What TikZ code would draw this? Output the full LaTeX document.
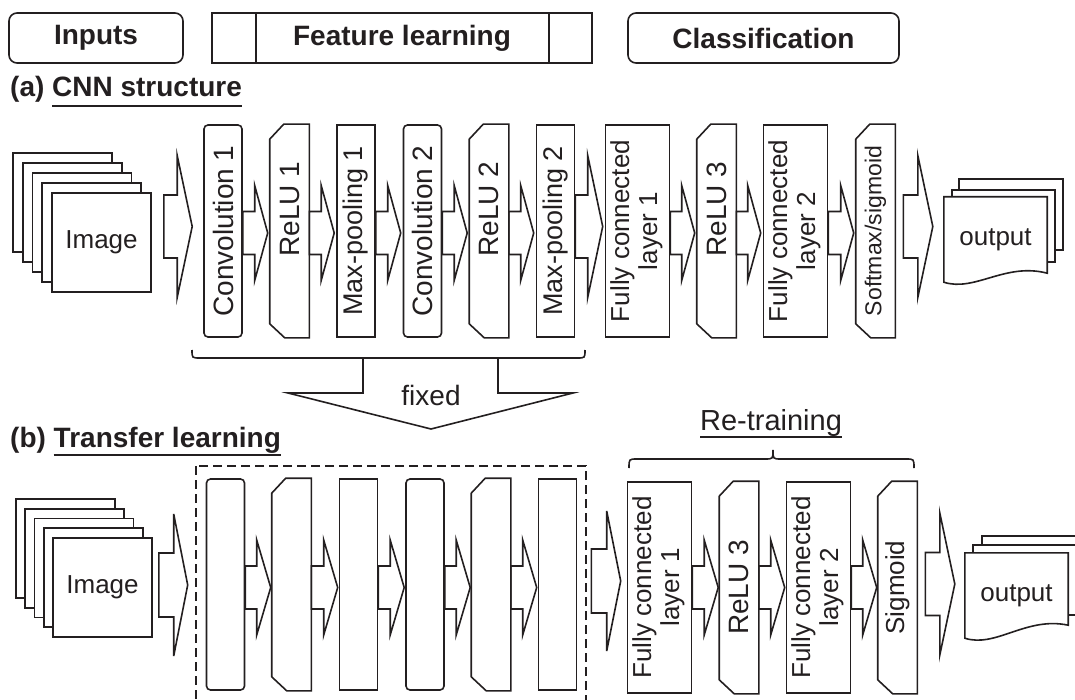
\documentclass[tikz,border=0pt]{standalone}
\usepackage{fontspec}
\setmainfont{Liberation Sans}
\usepackage{graphicx}
\usetikzlibrary{calc}
\pgfdeclarelayer{bg}
\pgfsetlayers{bg,main}
\definecolor{ink}{RGB}{35,31,32}
\newcommand\myul[2]{\leavevmode\setbox0\hbox{#2}\rlap{\color{ink}\rule[#1]{\wd0}{2pt}}\box0}
\newcommand\fctext[2]{\fontsize{26}{28}\selectfont\begin{tabular}{@{}c@{}}#1\\#2\end{tabular}}
\newcommand\uprelu[1]{\rotatebox{90}{\hspace{44pt}#1}}
% block arrow: #1 start point, #2 tip point, #3 centre y, #4 body half height, #5 head half height, #6 head length
\newcommand\blockarr[6]{\draw[ln] let \p1=#1, \p2=#2, \p3=(0,#3) in
  (\x1,\y3+#4pt) -- (\x2-#6pt,\y3+#4pt) -- (\x2-#6pt,\y3+#5pt) -- (\x2,\y3)
  -- (\x2-#6pt,\y3-#5pt) -- (\x2-#6pt,\y3-#4pt) -- (\x1,\y3-#4pt) -- cycle;}
% chamfered outline round a node
\newcommand\chamf[1]{\draw[ln] (#1.north east) -- (#1.south east) -- ([xshift=15pt]#1.south west)
  -- ([yshift=14pt]#1.south west) -- ([yshift=-15pt]#1.north west) -- ([xshift=14pt]#1.north west) -- cycle;}
\begin{document}
\begin{tikzpicture}[x=1pt,y=-1pt,
  ln/.style={draw=ink,line width=1.6pt},
  lay/.style={ln, minimum width=38pt, minimum height=212pt, inner sep=0pt, text=ink, font=\fontsize{28}{30}\selectfont},
  rlay/.style={lay, rounded corners=4pt},
  clay/.style={lay, draw=none},
  fclay/.style={lay, minimum width=64pt},
  hdr/.style={ln, minimum height=50pt, inner sep=0pt, text=ink, font=\fontsize{28}{32}\selectfont\bfseries},
  sheet/.style={ln, fill=white, minimum width=99pt, minimum height=99pt, inner sep=0pt, text=ink, font=\fontsize{26}{28}\selectfont},
  doc/.style={minimum width=103pt, minimum height=85pt, inner sep=0pt, text=ink, font=\fontsize{26}{28}\selectfont},
  ttl/.style={anchor=base west, inner sep=0pt, text=ink, font=\fontsize{28}{32}\selectfont\bfseries}
]
\useasboundingbox (0,0) rectangle (1075,700);
\clip (0,0) rectangle (1075,700);

% header
\node[hdr, rounded corners=8pt, minimum width=174pt] (hin) at (96,38) {Inputs};
\node[hdr, minimum width=380pt] (hfl) at (402,38) {Feature learning};
\draw[ln] ([xshift=45pt]hfl.north west) -- ([xshift=45pt]hfl.south west);
\draw[ln] ([xshift=-44pt]hfl.north east) -- ([xshift=-44pt]hfl.south east);
\node[hdr, rounded corners=8pt, minimum width=271pt] (hcl) at (763.5,38) {Classification};

% titles
\node[ttl] (ta) at (10,97) {(a) \myul{-10pt}{CNN structure}};
\node[ttl] (tb) at (10,447) {(b) \myul{-8.5pt}{Transfer learning}};

% ---------- row (a) ----------
\node[sheet] (i1) at (62.5,202.5) {};
\node[sheet] (i2) at (72.25,212.5) {};
\node[sheet] (i3) at (82,222.5) {};
\node[sheet] (i4) at (91.75,232.5) {};
\node[sheet] (i5) at (101.5,242.5) {Image};

\node[rlay] (a1) at (223,231) {\rotatebox{90}{Convolution 1}};
\node[clay] (a2) at (289.5,231) {\uprelu{ReLU 1}};
\node[lay] (a3) at (356,231) {\rotatebox{90}{\fontsize{27}{29}\selectfont Max-pooling 1}};
\node[rlay] (a4) at (422.5,231) {\rotatebox{90}{Convolution 2}};
\node[clay] (a5) at (489,231) {\uprelu{ReLU 2}};
\node[lay] (a6) at (555.5,231) {\rotatebox{90}{\fontsize{27}{29}\selectfont Max-pooling 2}};
\node[fclay] (a7) at (637.5,231) {\rotatebox{90}{\fctext{Fully connected}{layer 1}}};
\node[clay] (a8) at (716.5,231) {\uprelu{ReLU 3}};
\node[fclay] (a9) at (795.5,231) {\rotatebox{90}{\fctext{Fully connected}{layer 2}}};
\node[clay] (a10) at (875.5,231) {\rotatebox{90}{\fontsize{23}{25}\selectfont Softmax/sigmoid}};
\chamf{a2}\chamf{a5}\chamf{a8}\chamf{a10}

\node[doc] (o1) at (995.5,239.5) {output};
\begin{pgfonlayer}{bg}
\draw[ln, fill=white] ([shift={(15pt,18pt)}]o1.north west) rectangle ++(104pt,-71pt);
\draw[ln, fill=white] ([shift={(8pt,7pt)}]o1.north west) rectangle ++(103pt,-72pt);
\draw[ln, fill=white] (o1.north west) -- (o1.north east) -- ([yshift=9pt]o1.south east)
  .. controls ([shift={(-42pt,20pt)}]o1.south east) and ([shift={(31pt,-10pt)}]o1.south west) .. (o1.south west) -- cycle;
\end{pgfonlayer}

\blockarr{([xshift=12pt]i5.east)}{([xshift=-11pt]a1.west)}{226.5}{31.5}{71}{15}
\blockarr{(a1.east)}{([xshift=-2pt]a2.west)}{233}{21.5}{47.5}{13}
\blockarr{(a2.east)}{([xshift=-2pt]a3.west)}{233}{21.5}{47.5}{13}
\blockarr{(a3.east)}{([xshift=-2pt]a4.west)}{233}{21.5}{47.5}{13}
\blockarr{(a4.east)}{([xshift=-2pt]a5.west)}{233}{21.5}{47.5}{13}
\blockarr{(a5.east)}{([xshift=-2pt]a6.west)}{233}{21.5}{47.5}{13}
\blockarr{(a6.east)}{([xshift=-2pt]a7.west)}{226.5}{31.5}{71}{15}
\blockarr{(a7.east)}{([xshift=-2pt]a8.west)}{233}{21.5}{47.5}{13}
\blockarr{(a8.east)}{([xshift=-2pt]a9.west)}{233}{21.5}{47.5}{13}
\blockarr{(a9.east)}{([xshift=-2pt]a10.west)}{233}{21.5}{47.5}{13}
\blockarr{([xshift=8pt]a10.east)}{([xshift=-11pt]o1.west)}{226.5}{31.5}{71}{15}

% brace and "fixed" arrow
\draw[ln] (192,350) .. controls (192,358) .. (200,358) -- (577,358) .. controls (585,358) .. (585,350);
\draw[ln] (363,358) -- (363,393) -- (288,393) -- (431,429) -- (573,393) -- (498,393) -- (498,358);
\node[inner sep=0pt, text=ink, font=\fontsize{28}{30}\selectfont] (fx) at (431,395) {fixed};

% ---------- row (b) ----------
\node[ttl, anchor=base, font=\fontsize{29}{32}\selectfont] (rt) at (771,430) {\myul{-8pt}{Re-training}};
\draw[ln] (629,468) .. controls (629,459) .. (637,459) -- (765,459) .. controls (773,459) .. (773,450)
  .. controls (773,459) .. (781,459) -- (906,459) .. controls (914,459) .. (914,468);
\draw[draw=ink, line width=1.4pt, dash pattern=on 9pt off 5pt] (196,466) rectangle (586,712);

\node[sheet] (j1) at (65.5,548.5) {};
\node[sheet] (j2) at (74.75,558.25) {};
\node[sheet] (j3) at (84,568) {};
\node[sheet] (j4) at (93.25,577.75) {};
\node[sheet] (j5) at (102.5,587.5) {Image};

\node[rlay, minimum height=211pt] (b1) at (225.5,584.5) {};
\node[clay, minimum height=211pt] (b2) at (291.5,584.5) {};
\node[lay, minimum height=211pt] (b3) at (358.5,584.5) {};
\node[rlay, minimum height=211pt] (b4) at (425,584.5) {};
\node[clay, minimum height=211pt] (b5) at (491,584.5) {};
\node[lay, minimum height=211pt] (b6) at (557.5,584.5) {};
\node[fclay, minimum height=211pt] (b7) at (659.5,587.5) {\rotatebox{90}{\fctext{Fully connected}{layer 1}}};
\node[clay, minimum height=211pt] (b8) at (739,587.5) {\rotatebox{90}{ReLU 3}};
\node[fclay, minimum height=211pt] (b9) at (818.5,587.5) {\rotatebox{90}{\fctext{Fully connected}{layer 2}}};
\node[clay, minimum height=211pt] (b10) at (897.5,587.5) {\rotatebox{90}{\fontsize{26}{28}\selectfont Sigmoid}};
\chamf{b2}\chamf{b5}\chamf{b8}\chamf{b10}

\node[doc] (o2) at (1016.5,595.5) {output};
\begin{pgfonlayer}{bg}
\draw[ln, fill=white] ([shift={(17pt,17pt)}]o2.north west) rectangle ++(103pt,-69pt);
\draw[ln, fill=white] ([shift={(8pt,8pt)}]o2.north west) rectangle ++(103pt,-70pt);
\draw[ln, fill=white] (o2.north west) -- (o2.north east) -- ([yshift=13pt]o2.south east)
  .. controls ([shift={(-42pt,22pt)}]o2.south east) and ([shift={(31pt,-10pt)}]o2.south west) .. (o2.south west) -- cycle;
\end{pgfonlayer}

\blockarr{([xshift=6pt]j5.east)}{([xshift=-18pt]b1.west)}{585}{32}{71}{14}
\blockarr{(b1.east)}{([xshift=-1pt]b2.west)}{587.5}{21.5}{47.5}{14}
\blockarr{(b2.east)}{([xshift=-1pt]b3.west)}{587.5}{21.5}{47.5}{14}
\blockarr{(b3.east)}{([xshift=-1pt]b4.west)}{587.5}{21.5}{47.5}{14}
\blockarr{(b4.east)}{([xshift=-1pt]b5.west)}{587.5}{21.5}{47.5}{14}
\blockarr{(b5.east)}{([xshift=-1pt]b6.west)}{587.5}{21.5}{47.5}{14}
\blockarr{([xshift=14pt]b6.east)}{([xshift=-6pt]b7.west)}{581}{32}{70}{14}
\blockarr{(b7.east)}{([xshift=-1pt]b8.west)}{587.5}{21.5}{47.5}{14}
\blockarr{(b8.east)}{([xshift=-1pt]b9.west)}{587.5}{21.5}{47.5}{14}
\blockarr{(b9.east)}{([xshift=-1pt]b10.west)}{587.5}{21.5}{47.5}{14}
\blockarr{([xshift=8pt]b10.east)}{([xshift=-10pt]o2.west)}{584}{31.5}{71}{15}
\end{tikzpicture}
\end{document}
